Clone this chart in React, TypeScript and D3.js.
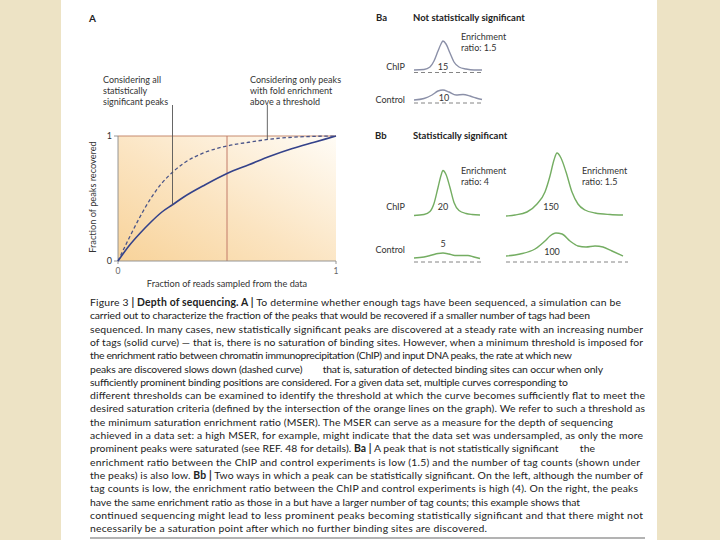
import * as d3 from 'd3'

// Panel A: fraction of peaks recovered vs fraction of reads sampled
const readFraction = [0, 0.05, 0.1, 0.15, 0.2, 0.25, 0.3, 0.4, 0.5, 0.6, 0.7, 0.8, 0.9, 1]
const solidRecovered = [0, 0.12, 0.22, 0.31, 0.39, 0.45, 0.51, 0.61, 0.7, 0.77, 0.84, 0.9, 0.95, 1]
const dashedRecovered = [0, 0.18, 0.35, 0.5, 0.62, 0.71, 0.78, 0.87, 0.92, 0.95, 0.975, 0.99, 0.997, 1]
const thresholdFraction = 0.5
const axisTicks = [0, 1]

// Panel B: peak profiles, position across window (0..1) and signal height
const baChipPos = [0, 0.147, 0.235, 0.294, 0.353, 0.397, 0.426, 0.471, 0.529, 0.588, 0.662, 0.765, 0.882, 1]
const baChipVal = [1, 1.5, 4, 10, 20, 27, 30, 27, 18, 9, 4, 2, 1, 1]
const baCtrlPos = [0, 0.147, 0.265, 0.353, 0.426, 0.515, 0.618, 0.721, 0.824, 0.912, 1]
const baCtrlVal = [1, 2.5, 6, 10, 11, 9, 6, 6.5, 5, 3, 1.5]
const bbLeftChipPos = [0, 0.152, 0.242, 0.303, 0.364, 0.409, 0.439, 0.485, 0.545, 0.606, 0.682, 0.788, 0.879, 1]
const bbLeftChipVal = [0, 1, 4, 12, 28, 40, 45, 41, 28, 13, 5, 2, 1, 0.5]
const bbLeftCtrlPos = [0, 0.152, 0.273, 0.364, 0.439, 0.53, 0.621, 0.727, 0.818, 0.909, 1]
const bbLeftCtrlVal = [1, 2, 4, 5.5, 6, 5, 3.5, 3.5, 3.5, 2, 0.5]
const bbRightChipPos = [0, 0.077, 0.179, 0.265, 0.333, 0.376, 0.41, 0.436, 0.47, 0.513, 0.564, 0.615, 0.675, 0.761, 0.889, 1]
const bbRightChipVal = [0, 1, 4, 12, 24, 40, 56, 63, 58, 44, 24, 12, 6, 3, 1.5, 1]
const bbRightCtrlPos = [0, 0.12, 0.248, 0.333, 0.376, 0.427, 0.479, 0.547, 0.615, 0.684, 0.761, 0.829, 0.906, 1]
const bbRightCtrlVal = [2, 4, 9, 17, 22, 25, 24, 17, 12, 11, 12, 11, 7, 2]

const tagCounts = { baChip: '15', baCtrl: '10', bbLeftChip: '20', bbLeftCtrl: '5', bbRightChip: '150', bbRightCtrl: '100' }
const enrichment = { ba: '1.5', bbLeft: '4', bbRight: '1.5' }

const captionLines = [
  'Figure 3 **| Depth of sequencing. A |** To determine whether enough tags have been sequenced, a simulation can be',
  'carried out to characterize the fraction of the peaks that would be recovered if a smaller number of tags had been',
  'sequenced. In many cases, new statistically significant peaks are discovered at a steady rate with an increasing number',
  'of tags (solid curve) \u2014 that is, there is no saturation of binding sites. However, when a minimum threshold is imposed for',
  'the enrichment ratio between chromatin immunoprecipitation (ChIP) and input DNA peaks, the rate at which new',
  'peaks are discovered slows down (dashed curve) \u2003\u2003 that is, saturation of detected binding sites can occur when only',
  'sufficiently prominent binding positions are considered. For a given data set, multiple curves corresponding to',
  'different thresholds can be examined to identify the threshold at which the curve becomes sufficiently flat to meet the',
  'desired saturation criteria (defined by the intersection of the orange lines on the graph). We refer to such a threshold as',
  'the minimum saturation enrichment ratio (MSER). The MSER can serve as a measure for the depth of sequencing',
  'achieved in a data set: a high MSER, for example, might indicate that the data set was undersampled, as only the more',
  'prominent peaks were saturated (see REF. 48 for details). **Ba |** A peak that is not statistically significant \u2003\u2003 the',
  'enrichment ratio between the ChIP and control experiments is low (1.5) and the number of tag counts (shown under',
  'the peaks) is also low. **Bb |** Two ways in which a peak can be statistically significant. On the left, although the number of',
  'tag counts is low, the enrichment ratio between the ChIP and control experiments is high (4). On the right, the peaks',
  'have the same enrichment ratio as those in a but have a larger number of tag counts; this example shows that',
  'continued sequencing might lead to less prominent peaks becoming statistically significant and that there might not',
  'necessarily be a saturation point after which no further binding sites are discovered.',
]
// right edge of each caption line as typeset
const captionEnds = [621, 590, 643, 643, 572, 603, 568, 645, 645, 613, 643, 595, 640, 643, 638, 580, 643, 487]

const FONT = 'Lato, "Open Sans", sans-serif'
const TXT = '#333'
const GREEN = '#74ad62'
const GREY_PEAK = '#8b90a8'

function Peak({ pos, val, x0, x1, base, color, dashed, dashX1 }: any) {
  const x = d3.scaleLinear().domain([0, 1]).range([x0, x1])
  const y = d3.scaleLinear().domain([0, 70]).range([base, base - 70])
  const pts = pos.map((p: number, i: number) => [p, val[i]] as [number, number])
  const line = d3.line<[number, number]>().x(d => x(d[0])).y(d => y(d[1])).curve(d3.curveMonotoneX)
  return (
    <g>
      {dashed && (
        <line x1={x0} x2={dashX1 ?? x1} y1={dashed} y2={dashed} stroke="#777" strokeWidth={0.9} strokeDasharray="4,3" />
      )}
      <path d={line(pts) || ''} fill="none" stroke={color} strokeWidth={1.4} />
    </g>
  )
}

function CaptionLine({ text, y, end }: { text: string; y: number; end: number }) {
  const parts = text.split('**')
  return (
    <text x={90} y={y} fontSize={10.4} fill="#222" textLength={end - 90} lengthAdjust="spacing">
      {parts.map((p, i) => (
        <tspan key={i} fontWeight={i % 2 === 1 ? 700 : 400}>{p}</tspan>
      ))}
    </text>
  )
}

export default function App() {
  const x = d3.scaleLinear().domain([0, 1]).range([118, 336])
  const y = d3.scaleLinear().domain([0, 1]).range([261, 136])
  const solidPts = readFraction.map((f, i) => [f, solidRecovered[i]] as [number, number])
  const dashedPts = readFraction.map((f, i) => [f, dashedRecovered[i]] as [number, number])
  const curve = d3.line<[number, number]>().x(d => x(d[0])).y(d => y(d[1])).curve(d3.curveMonotoneX)
  const leftIdx = readFraction.indexOf(0.25)
  const rightIdx = readFraction.indexOf(0.7)

  return (
    <svg width={720} height={540} style={{ position: 'absolute', left: 0, top: 0 }} fontFamily={FONT}>
      <defs>
        <linearGradient id="fillA" x1="0" y1="1" x2="1" y2="0">
          <stop offset="0" stopColor="#f8d39a" />
          <stop offset="0.45" stopColor="#fbe4c1" />
          <stop offset="1" stopColor="#fffcf6" />
        </linearGradient>
      </defs>
      <rect x={0} y={0} width={720} height={540} fill="#ede3c5" />
      <rect x={61} y={0} width={596} height={540} fill="#ffffff" />

      {/* Panel A */}
      <text x={89} y={22} fontSize={10} fontWeight={700} fill="#222">A</text>
      <rect x={x(0)} y={y(1)} width={x(1) - x(0)} height={y(0) - y(1)} fill="url(#fillA)" />
      <line x1={x(0)} x2={x(1)} y1={y(1)} y2={y(1)} stroke="#c68a6e" strokeWidth={1} />
      <line x1={x(thresholdFraction)} x2={x(thresholdFraction)} y1={y(1)} y2={y(0)} stroke="#c27a68" strokeWidth={1} />
      <line x1={x(0)} x2={x(0)} y1={y(1)} y2={y(0)} stroke="#8a8a8a" strokeWidth={0.9} />
      <line x1={x(0)} x2={x(1)} y1={y(0)} y2={y(0)} stroke="#8a8a8a" strokeWidth={0.9} />
      {axisTicks.map(t => (
        <g key={'y' + t}>
          <line x1={x(0) - 4} x2={x(0)} y1={y(t)} y2={y(t)} stroke="#8a8a8a" strokeWidth={0.9} />
          <text x={x(0) - 6} y={y(t) + 3} fontSize={9} textAnchor="end" fill={TXT}>{t}</text>
        </g>
      ))}
      {axisTicks.map(t => (
        <g key={'x' + t}>
          <line x1={x(t)} x2={x(t)} y1={y(0)} y2={y(0) + 3} stroke="#8a8a8a" strokeWidth={0.9} />
          <text x={x(t)} y={y(0) + 13} fontSize={8.5} textAnchor="middle" fill="#666">{t}</text>
        </g>
      ))}
      <text x={227} y={287} fontSize={9.2} textAnchor="middle" fill={TXT}>Fraction of reads sampled from the data</text>
      <text transform="translate(96,197) rotate(-90)" fontSize={9.2} textAnchor="middle" fill={TXT}>Fraction of peaks recovered</text>

      <path d={curve(dashedPts) || ''} fill="none" stroke="#4a5488" strokeWidth={1.3} strokeDasharray="3.5,2.5" />
      <path d={curve(solidPts) || ''} fill="none" stroke="#34428a" strokeWidth={1.6} />

      <line x1={x(readFraction[leftIdx])} x2={x(readFraction[leftIdx])} y1={105} y2={y(solidRecovered[leftIdx])} stroke="#555" strokeWidth={0.9} />
      <line x1={x(0.685)} x2={x(0.685)} y1={105} y2={y(dashedRecovered[rightIdx])} stroke="#555" strokeWidth={0.9} />
      <g fontSize={9} fill={TXT}>
        <text x={103} y={83}>Considering all</text>
        <text x={103} y={94}>statistically</text>
        <text x={103} y={105}>significant peaks</text>
        <text x={250} y={83}>Considering only peaks</text>
        <text x={250} y={94}>with fold enrichment</text>
        <text x={250} y={105}>above a threshold</text>
      </g>

      {/* Panel Ba */}
      <text x={376} y={21} fontSize={9.5} fontWeight={700} fill="#222">Ba</text>
      <text x={413} y={21} fontSize={9.5} fontWeight={700} fill="#222">Not statistically significant</text>
      <g fontSize={9} fill={TXT}>
        <text x={461} y={40}>Enrichment</text>
        <text x={461} y={51}>ratio: {enrichment.ba}</text>
        <text x={405} y={70} textAnchor="end">ChIP</text>
        <text x={405} y={103} textAnchor="end">Control</text>
        <text x={443} y={70} textAnchor="middle">{tagCounts.baChip}</text>
        <text x={444} y={101} textAnchor="middle">{tagCounts.baCtrl}</text>
      </g>
      <Peak pos={baChipPos} val={baChipVal} x0={414} x1={482} base={71} color={GREY_PEAK} dashed={72.5} />
      <Peak pos={baCtrlPos} val={baCtrlVal} x0={414} x1={482} base={101} color={GREY_PEAK} dashed={103} />

      {/* Panel Bb */}
      <text x={375} y={139} fontSize={9.5} fontWeight={700} fill="#222">Bb</text>
      <text x={413} y={139} fontSize={9.5} fontWeight={700} fill="#222">Statistically significant</text>
      <g fontSize={9} fill={TXT}>
        <text x={461} y={174}>Enrichment</text>
        <text x={461} y={185}>ratio: {enrichment.bbLeft}</text>
        <text x={582} y={174}>Enrichment</text>
        <text x={582} y={185}>ratio: {enrichment.bbRight}</text>
        <text x={405} y={210} textAnchor="end">ChIP</text>
        <text x={405} y={253} textAnchor="end">Control</text>
        <text x={443} y={210} textAnchor="middle">{tagCounts.bbLeftChip}</text>
        <text x={443} y={247} textAnchor="middle">{tagCounts.bbLeftCtrl}</text>
        <text x={551} y={210} textAnchor="middle">{tagCounts.bbRightChip}</text>
        <text x={552} y={255} textAnchor="middle">{tagCounts.bbRightCtrl}</text>
      </g>
      <Peak pos={bbLeftChipPos} val={bbLeftChipVal} x0={414} x1={480} base={215.5} color={GREEN} />
      <Peak pos={bbLeftCtrlPos} val={bbLeftCtrlVal} x0={414} x1={480} base={259} color={GREEN} dashed={262} dashX1={482} />
      <Peak pos={bbRightChipPos} val={bbRightChipVal} x0={506} x1={623} base={216} color={GREEN} />
      <Peak pos={bbRightCtrlPos} val={bbRightCtrlVal} x0={506} x1={623} base={258} color={GREEN} dashed={262} dashX1={628} />

      {/* Caption */}
      {captionLines.map((t, i) => (
        <CaptionLine key={i} text={t} y={306 + i * 13.3} end={captionEnds[i]} />
      ))}
      <line x1={90} x2={645} y1={538} y2={538} stroke="#9a9a9a" strokeWidth={1.4} />
    </svg>
  )
}
